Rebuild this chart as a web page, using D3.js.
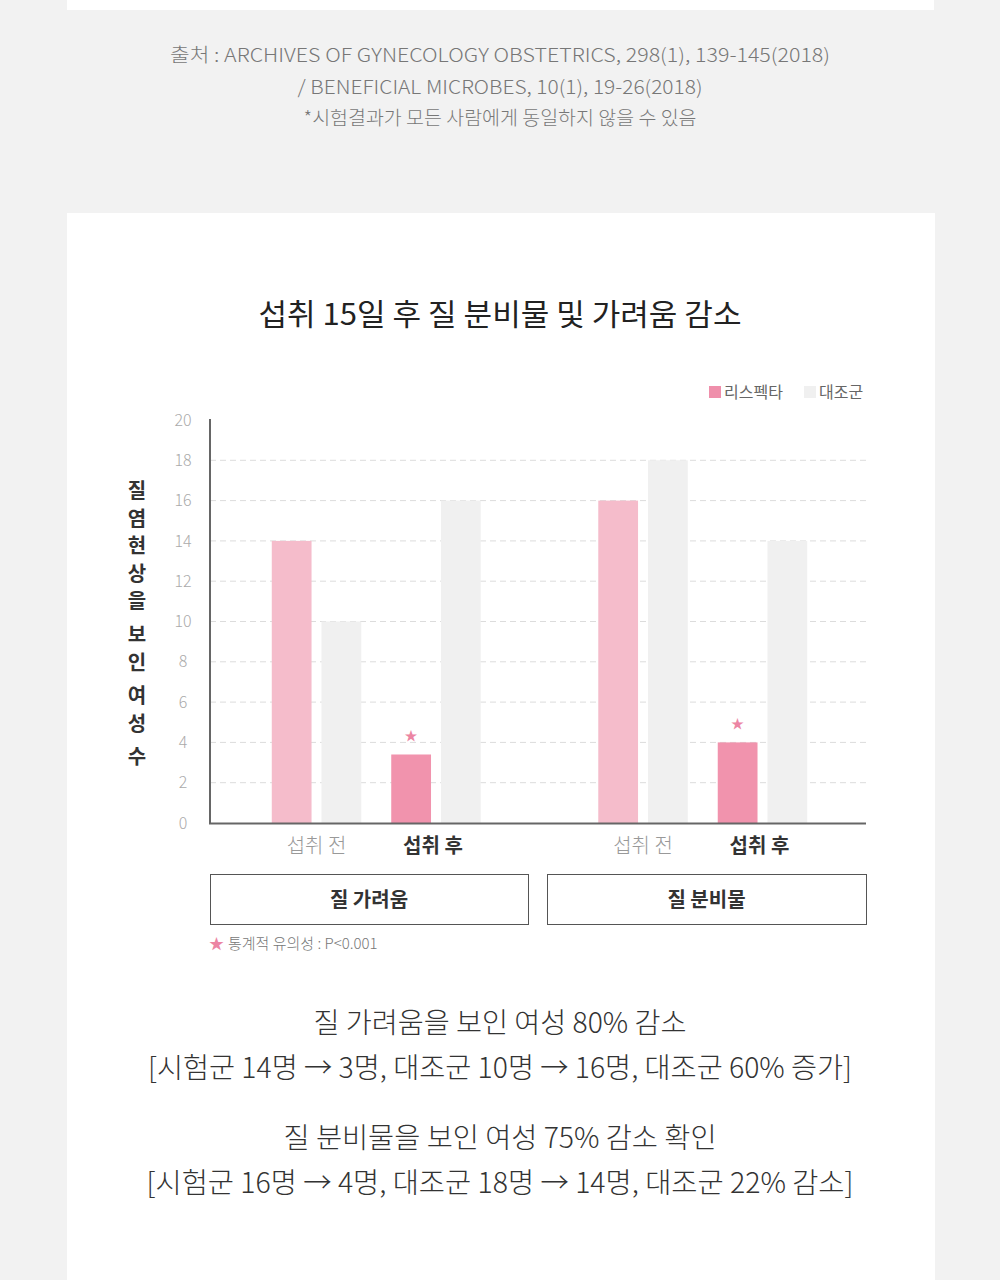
<!DOCTYPE html>
<html><head><meta charset="utf-8">
<script src="https://cdn.jsdelivr.net/npm/d3@7"></script>
<style>
html,body{margin:0;padding:0;background:#f2f2f2;}
svg{display:block;font-family:"Noto Sans CJK KR","Noto Sans",sans-serif;}
</style></head>
<body><svg id="c" width="1000" height="1280"></svg>
<script>
const groups = ["질 가려움", "질 분비물"];
const timepoints = ["섭취 전", "섭취 후"];
const seriesNames = ["리스펙타", "대조군"];
// values[group][timepoint] = [리스펙타, 대조군]
const itchValues = [[14, 10], [3.4, 16]];
const dischargeValues = [[16, 18], [4, 14]];
const significant = [[false, false], [true, true]]; // star on 리스펙타 after
const yTicks = [0, 2, 4, 6, 8, 10, 12, 14, 16, 18, 20];
const title = "섭취 15일 후 질 분비물 및 가려움 감소";
const yTitle = "질염현상을 보인 여성 수";
const sourceLines = ["출처 : ARCHIVES OF GYNECOLOGY OBSTETRICS, 298(1), 139-145(2018)", "/ BENEFICIAL MICROBES, 10(1), 19-26(2018)", "*시험결과가 모든 사람에게 동일하지 않을 수 있음"];
const footnote = "통계적 유의성 : P<0.001";
const summaryLines = ["질 가려움을 보인 여성 80% 감소", "[시험군 14명 → 3명, 대조군 10명 → 16명, 대조군 60% 증가]", "질  분비물을 보인 여성 75% 감소 확인", "[시험군 16명 → 4명, 대조군 18명 → 14명, 대조군 22% 감소]"];

const svg = d3.select("#c");
const colBefore = "#f5bccb", colAfter = "#f193ad", colCtrl = "#f0f0f0", colLegendPink = "#ef8fab";

// cards
svg.append("rect").attr("x", 67).attr("y", 0).attr("width", 867).attr("height", 10).attr("fill", "#fff");
svg.append("rect").attr("x", 67).attr("y", 213).attr("width", 868).attr("height", 1067).attr("fill", "#fff");

// source text
const srcSpec = [{y: 62, len: 660}, {y: 94, len: 405}, {y: 125, len: 393}];
sourceLines.forEach((t, i) => {
  svg.append("text").attr("x", 500).attr("y", srcSpec[i].y).attr("text-anchor", "middle")
    .attr("font-size", 19).attr("font-weight", 300).attr("fill", "#777")
    .attr("textLength", srcSpec[i].len).attr("lengthAdjust", "spacingAndGlyphs").text(t);
});

// title
svg.append("text").attr("x", 500).attr("y", 325).attr("text-anchor", "middle")
  .attr("font-size", 30).attr("font-weight", 400).attr("fill", "#222")
  .attr("textLength", 483).attr("lengthAdjust", "spacingAndGlyphs").text(title);

// legend
const legend = svg.append("g");
[{x: 709, c: colLegendPink}, {x: 804, c: colCtrl}].forEach((d, i) => {
  legend.append("rect").attr("x", d.x).attr("y", 386).attr("width", 12).attr("height", 12).attr("fill", d.c);
  legend.append("text").attr("x", d.x + 15).attr("y", 398).attr("font-size", 16).attr("fill", "#666").text(seriesNames[i]);
});

// scales
const y = d3.scaleLinear().domain([0, 20]).range([823, 420]);
const x0 = d3.scaleBand().domain(groups).range([213, 866]).paddingInner(0.36).paddingOuter(0.18);
const x1 = d3.scaleBand().domain(timepoints).range([0, x0.bandwidth()]).paddingInner(0.251);
const x2 = d3.scaleBand().domain(seriesNames).range([0, x1.bandwidth()]).paddingInner(0.2);

// gridlines
svg.append("g").selectAll("line").data(yTicks.filter(v => v > 0 && v < 20)).join("line")
  .attr("x1", 210).attr("x2", 866).attr("y1", d => y(d)).attr("y2", d => y(d))
  .attr("stroke", "#dcdcdc").attr("stroke-width", 1).attr("stroke-dasharray", "6,4");

// y axis labels
const yAxis = svg.append("g").attr("transform", "translate(210,0)")
  .call(d3.axisLeft(y).tickValues(yTicks).tickSize(0).tickPadding(27));
yAxis.select(".domain").remove();
yAxis.selectAll("text").attr("font-size", 16).attr("fill", "#aaa").attr("text-anchor", "middle")
  .attr("font-family", "'Noto Sans CJK KR','Noto Sans',sans-serif").attr("font-weight", 300);

// bars
const allValues = [itchValues, dischargeValues];
const barData = [];
groups.forEach((g, gi) => timepoints.forEach((t, ti) => seriesNames.forEach((s, si) => {
  barData.push({g, t, s, v: allValues[gi][ti][si], ti, si, sig: significant[ti][si] && si === 0});
})));
const bx = d => x0(d.g) + x1(d.t) + x2(d.s);
svg.append("g").selectAll("rect").data(barData).join("rect")
  .attr("x", bx).attr("width", x2.bandwidth())
  .attr("y", d => y(d.v)).attr("height", d => y(0) - y(d.v))
  .attr("fill", d => d.si === 1 ? colCtrl : (d.ti === 0 ? colBefore : colAfter));

// stars
svg.append("g").selectAll("text").data(barData.filter(d => d.sig)).join("text")
  .attr("x", d => bx(d) + x2.bandwidth() / 2).attr("y", d => y(d.v) - 14)
  .attr("text-anchor", "middle").attr("font-size", 13).attr("fill", "#ec85a3").text("★");

// axis lines
svg.append("line").attr("x1", 210).attr("x2", 210).attr("y1", 419).attr("y2", 824).attr("stroke", "#666").attr("stroke-width", 2);
svg.append("line").attr("x1", 209).attr("x2", 866).attr("y1", 823.5).attr("y2", 823.5).attr("stroke", "#666").attr("stroke-width", 2);

// x labels
const xl = [];
groups.forEach(g => timepoints.forEach((t, ti) => xl.push({g, t, ti})));
svg.append("g").selectAll("text").data(xl).join("text")
  .attr("x", d => x0(d.g) + x1(d.t) + x1.bandwidth() / 2 - (d.ti === 1 ? 3 : 0)).attr("y", 853)
  .attr("text-anchor", "middle").attr("font-size", 20)
  .attr("font-weight", d => d.ti === 1 ? 700 : 300).attr("fill", d => d.ti === 1 ? "#333" : "#999")
  .text(d => d.t);

// group boxes
const boxes = [{x: 210, w: 318}, {x: 547, w: 319}];
boxes.forEach((b, i) => {
  svg.append("rect").attr("x", b.x + 0.5).attr("y", 874.5).attr("width", b.w).attr("height", 50)
    .attr("fill", "#fff").attr("stroke", "#555").attr("stroke-width", 1);
  svg.append("text").attr("x", b.x + b.w / 2).attr("y", 907).attr("text-anchor", "middle")
    .attr("font-size", 20).attr("font-weight", 700).attr("fill", "#333").text(groups[i]);
});

// footnote
svg.append("text").attr("x", 209).attr("y", 949).attr("font-size", 15).attr("fill", "#ec85a3").text("★");
svg.append("text").attr("x", 228).attr("y", 949).attr("font-size", 15).attr("font-weight", 300).attr("fill", "#777").text(footnote);

// y title stacked
const yt = svg.append("text").attr("text-anchor", "middle").attr("font-size", 20).attr("font-weight", 700).attr("fill", "#333");
let cy = 498;
[...yTitle].forEach(ch => {
  if (ch === " ") { cy += 6; return; }
  yt.append("tspan").attr("x", 137).attr("y", cy).text(ch);
  cy += 27.6;
});

// summary text
const sumSpec = [{y: 1033, len: 373}, {y: 1078, len: 704}, {y: 1148, len: 433}, {y: 1193, len: 707}];
summaryLines.forEach((t, i) => {
  svg.append("text").attr("x", 500).attr("y", sumSpec[i].y).attr("text-anchor", "middle")
    .attr("font-size", 28).attr("font-weight", 300).attr("fill", "#333")
    .attr("textLength", sumSpec[i].len).attr("lengthAdjust", "spacingAndGlyphs").text(t);
});
</script></body></html>
